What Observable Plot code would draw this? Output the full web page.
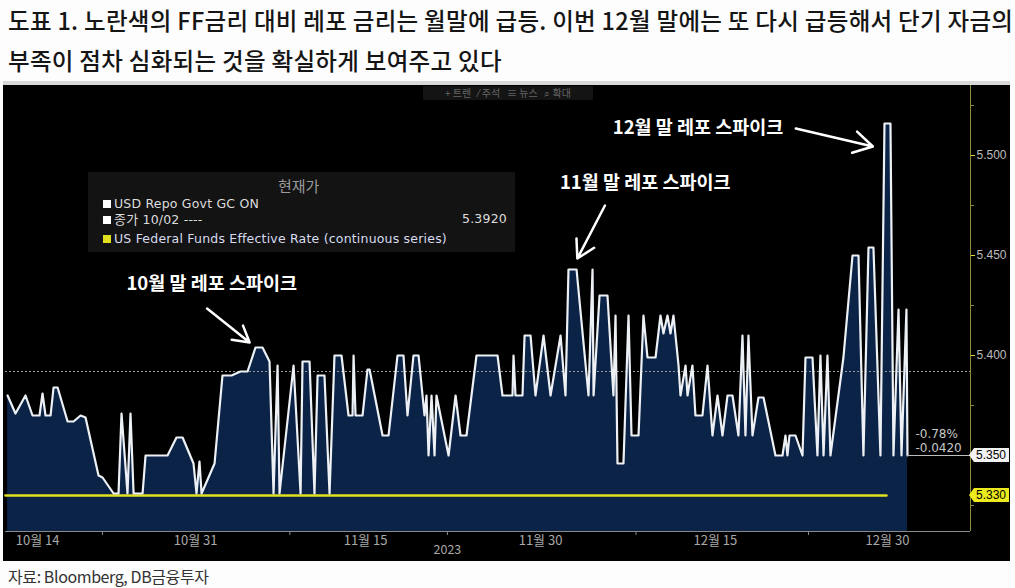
<!DOCTYPE html>
<html><head><meta charset="utf-8">
<script src="https://cdn.jsdelivr.net/npm/d3@7"></script>
<script src="https://cdn.jsdelivr.net/npm/@observablehq/plot@0.6"></script>
<style>
body{margin:0;background:#fdfdfd;width:1015px;height:588px;overflow:hidden;position:relative;font-family:'Noto Sans CJK KR',sans-serif}
#title{position:absolute;left:8px;top:0;font-size:23.5px;font-weight:500;line-height:40px;color:#151515;letter-spacing:0.3px;white-space:nowrap}
#caption{position:absolute;left:8px;top:566px;font-size:16px;line-height:20px;color:#333;letter-spacing:-0.4px}
#topbar{position:absolute;left:3px;top:81px;width:1007px;height:4px;background:#d9d9d9}
#panel{position:absolute;left:3px;top:85px;width:1007px;height:476px;background:#000}
#legend{position:absolute;left:88px;top:172px;width:427px;height:80px;background:#131313;font-family:'DejaVu Sans',sans-serif;color:#ddd}
.row{position:absolute;left:15px;font-size:12.5px;line-height:13px;letter-spacing:0.2px;white-space:nowrap}
.sq{display:inline-block;width:8px;height:8px;margin-right:3px;vertical-align:0px}
#toolbar{position:absolute;left:423px;top:86px;width:170px;height:14px;background:#141414;color:#666;font-size:10px;line-height:14px;text-align:center;white-space:pre}
.vbox{position:absolute;left:969px;width:40px;height:14px;font-family:'Liberation Sans',sans-serif;font-size:12px;line-height:14px;text-align:right;padding-right:3px;box-sizing:border-box;clip-path:polygon(0 50%,5px 0,100% 0,100% 100%,5px 100%)}
</style></head><body>
<div id="title">도표 1. 노란색의 FF금리 대비 레포 금리는 월말에 급등. 이번 12월 말에는 또 다시 급등해서 단기 자금의<br>부족이 점차 심화되는 것을 확실하게 보여주고 있다</div>
<div id="topbar"></div>
<div id="panel"></div>
<div id="caption">자료: Bloomberg, DB금융투자</div>
<script>
// ---- data (x = day counted from 1 Oct 2023, fractional; y = rate %) ----
const days = [14.65,15.34,16.21,16.82,17.43,17.69,17.95,18.39,18.65,19.00,
19.87,20.39,21.00,21.43,22.56,22.91,23.87,24.30,24.56,25.08,
25.34,25.61,26.39,26.65,28.56,29.34,29.87,30.82,31.08,31.34,
31.52,32.65,33.34,34.13,34.91,35.52,36.21,36.82,37.43,37.78,
38.13,38.30,39.52,40.13,40.30,40.91,41.34,41.61,42.21,42.65,
43.08,43.69,44.30,44.65,44.74,44.91,45.52,45.95,46.13,47.26,
47.78,48.56,49.08,49.43,49.95,50.39,50.91,51.08,51.26,51.52,
51.78,51.95,53.00,53.61,54.04,54.56,55.43,57.26,57.69,58.56,
58.65,58.82,59.43,59.61,60.13,60.56,61.26,61.87,62.74,63.17,
63.43,64.13,65.17,65.52,65.61,66.13,66.82,67.34,67.52,67.69,
68.21,68.65,68.91,69.52,69.95,70.30,71.00,71.43,71.69,72.04,
72.30,72.56,73.00,73.17,73.61,73.78,74.21,74.47,75.08,75.52,
75.95,76.39,76.82,77.26,77.69,78.21,78.56,78.82,79.08,79.43,
79.95,80.39,81.43,82.04,82.30,82.47,82.65,83.17,83.78,84.04,
84.65,85.08,85.34,85.61,85.95,86.21,87.34,88.13,88.65,89.08,
89.52,89.95,90.56,90.91,91.43,91.69,92.13,92.39,92.82,92.91];
const repo = [5.380,5.371,5.380,5.370,5.370,5.381,5.370,5.370,5.384,5.384,
5.367,5.367,5.370,5.369,5.340,5.339,5.331,5.331,5.371,5.331,
5.371,5.331,5.331,5.350,5.350,5.359,5.359,5.346,5.331,5.347,
5.331,5.346,5.390,5.390,5.392,5.392,5.404,5.404,5.397,5.331,
5.395,5.331,5.395,5.331,5.397,5.397,5.331,5.390,5.390,5.331,
5.400,5.400,5.370,5.370,5.400,5.370,5.370,5.393,5.393,5.360,
5.360,5.400,5.400,5.370,5.400,5.400,5.370,5.380,5.350,5.380,
5.350,5.380,5.350,5.380,5.360,5.360,5.400,5.400,5.380,5.380,
5.400,5.380,5.380,5.410,5.410,5.380,5.410,5.380,5.410,5.380,
5.443,5.443,5.380,5.443,5.380,5.430,5.430,5.380,5.420,5.346,
5.346,5.420,5.360,5.360,5.420,5.399,5.399,5.420,5.411,5.420,
5.411,5.420,5.395,5.380,5.395,5.380,5.395,5.370,5.370,5.395,
5.360,5.380,5.360,5.380,5.380,5.360,5.410,5.360,5.410,5.360,
5.379,5.379,5.350,5.350,5.360,5.350,5.360,5.360,5.350,5.399,
5.399,5.350,5.400,5.350,5.400,5.350,5.399,5.450,5.450,5.350,
5.454,5.454,5.350,5.516,5.516,5.350,5.423,5.350,5.423,5.350];
const ffDays = [14.47, 91.08];
const ffValues = [5.33, 5.33];
const closeRef = 5.392;           // 종가 10/02
const lastRate = 5.350;
const ffLast = 5.330;

const tickDays = [17.26, 31.0, 45.78, 61.0, 76.2, 91.17];
const tickLabels = ["10월 14","10월 31","11월 15","11월 30","12월 15","12월 30"];
const minorTickDays = [22.9, 39.2, 52.9, 69.3, 84.3];
const yearLabel = "2023";
const yearDay = 52.9;
const yTicks = [5.40, 5.45, 5.50];
const yMinorTicks = [5.325, 5.375, 5.425, 5.475, 5.525];

const annoText = ["10월 말 레포 스파이크","11월 말 레포 스파이크","12월 말 레포 스파이크"];
const annoDay = [32.4, 70.1, 74.7];
const annoRate = [5.4355, 5.486, 5.5135];
const arrowFromDay = [32.0, 66.6, 83.2];
const arrowFromRate = [5.4235, 5.475, 5.5135];
const arrowToDay = [35.7, 64.2, 89.9];
const arrowToRate = [5.4065, 5.4485, 5.5045];

const changeLabels = ["-0.78%", "-0.0420"];
const changeDay = [93.6, 93.6];
const changeRate = [5.3605, 5.3535];

const xMin = 14.47, xMax = 98.39, yMin = 5.312, yMax = 5.535;

const idx = d3.range(days.length);
const labelMap = new Map(tickDays.map((d, i) => [d, tickLabels[i]]));
const font = "'Noto Sans CJK KR', sans-serif";

const chart = Plot.plot({
  width: 1007, height: 476,
  marginLeft: 2, marginRight: 40, marginTop: 0, marginBottom: 30,
  style: {background: "#000", color: "#bbb", fontFamily: font},
  x: {domain: [xMin, xMax], axis: null},
  y: {domain: [yMin, yMax], axis: null},
  marks: [
    Plot.areaY(idx, {x: i => days[i], y1: yMin, y2: i => repo[i], fill: "#0a2346"}),
    Plot.ruleY([closeRef], {stroke: "#9a9a9a", strokeDasharray: "2,2", strokeWidth: 1}),
    Plot.line([0, 1], {x: i => ffDays[i], y: i => ffValues[i], stroke: "#e2e01e", strokeWidth: 2.6}),
    Plot.line(idx, {x: i => days[i], y: i => repo[i], stroke: "#edf1f5", strokeWidth: 2.2, strokeLinejoin: "round"}),
    Plot.ruleY([lastRate], {x1: days[days.length - 1], x2: xMax, stroke: "#bdbdbd", strokeWidth: 1}),
    Plot.ruleY([yMin], {stroke: "#8a8a8a", strokeWidth: 1.2}),
    Plot.ruleX([xMax], {stroke: "#8f8c3c", strokeWidth: 1}),
    Plot.axisY({anchor: "right", ticks: yTicks, tickFormat: ".3f", tickSize: 4, tickPadding: 2,
      stroke: "#d8d435", fill: "#bdbdbd", fontSize: 12, label: null, fontFamily: "'Liberation Sans', sans-serif"}),
    Plot.axisY({anchor: "right", ticks: yMinorTicks, tickFormat: () => "", tickSize: 3,
      stroke: "#8f8c3c", label: null}),
    Plot.axisX({ticks: tickDays, tickFormat: d => labelMap.get(d), tickSize: 0, tickPadding: 4,
      fill: "#a8a8a8", fontSize: 13, label: null}),
    Plot.axisX({ticks: minorTickDays, tickFormat: () => "", tickSize: 4, stroke: "#8a8a8a", label: null}),
    Plot.text([yearLabel], {x: yearDay, frameAnchor: "bottom", dy: 22, fill: "#a8a8a8", fontSize: 12.5}),
    Plot.text(annoText, {x: annoDay, y: annoRate, fill: "#fff", fontSize: 18.5, fontWeight: "bold"}),
    Plot.arrow(annoText, {x1: arrowFromDay, y1: arrowFromRate, x2: arrowToDay, y2: arrowToRate,
      stroke: "#fff", strokeWidth: 2.5, headLength: 13}),
    Plot.text(changeLabels, {x: changeDay, y: changeRate, textAnchor: "start", fill: "#c8c8c8", fontSize: 12,
      fontFamily: "'DejaVu Sans', sans-serif"})
  ]
});
document.getElementById("panel").appendChild(chart);

// overlays (legend, toolbar, value boxes)
const panelTop = 85;
const ys = chart.scale("y");
const legend = document.createElement("div");
legend.id = "legend";
legend.innerHTML = `
  <div style="position:absolute;left:190px;top:3px;font-family:'Noto Sans CJK KR';font-size:15px;color:#9a9a9a">현재가</div>
  <div class="row" style="top:25px"><span class="sq" style="background:#fff"></span>USD Repo Govt GC ON</div>
  <div class="row" style="top:40px"><span class="sq" style="background:#fff"></span><span style="font-family:'Noto Sans CJK KR';font-size:13px">종가</span> 10/02 ----</div>
  <div class="row" style="top:40px;left:auto;right:8px">${closeRef.toFixed(4)}</div>
  <div class="row" style="top:60px;color:#d8dcf0"><span class="sq" style="background:#e2e01e"></span>US Federal Funds Effective Rate (continuous series)</div>`;
document.body.appendChild(legend);

const tb = document.createElement("div");
tb.id = "toolbar";
tb.textContent = "+ 트렌   ⁄ 주석   ≡ 뉴스   ⌕ 확대";
document.body.appendChild(tb);

function vbox(v, bg) {
  const b = document.createElement("div");
  b.className = "vbox";
  b.style.background = bg;
  b.style.color = "#000";
  b.style.top = (panelTop + ys.apply(v) - 7) + "px";
  b.textContent = v.toFixed(3);
  document.body.appendChild(b);
}
vbox(lastRate, "#f2f2f2");
vbox(ffLast, "#ecea1c");
</script>
</body></html>
